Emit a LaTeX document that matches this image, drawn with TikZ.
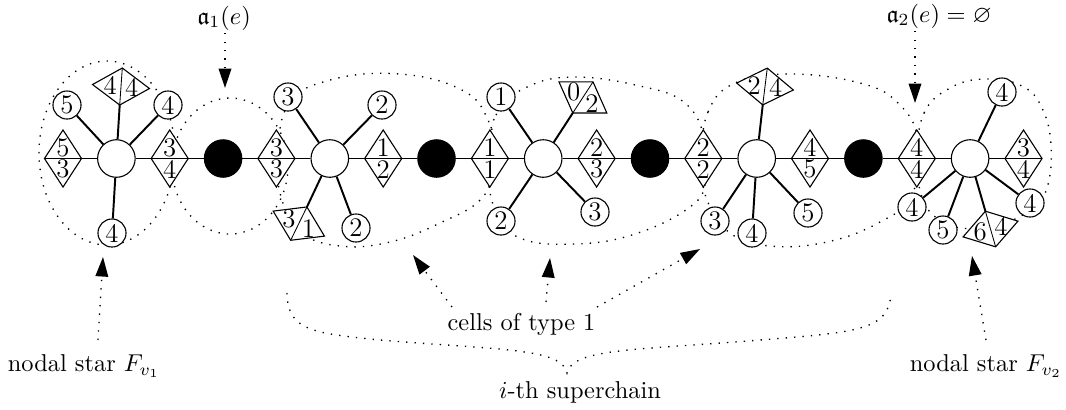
\documentclass[tikz,border=0pt]{standalone}
\usepackage{amssymb}
\usetikzlibrary{shapes.geometric,arrows.meta,calc}
\newcommand\digf{\fontsize{11}{13}\selectfont}
\tikzset{
  thk/.style={line width=0.8pt},
  dots/.style={line width=0.55pt, dash pattern=on 0.55pt off 2.9pt},
  arr/.style={dots, -{Triangle[length=8pt,width=5.2pt]}},
  leaf/.style={circle, draw, line width=0.45pt, fill=white, minimum size=11.5pt, inner sep=0pt, font=\digf},
  wnode/.style={circle, draw, line width=0.45pt, fill=white, minimum size=15.4pt, inner sep=0pt},
  bnode/.style={circle, draw, fill=black, minimum size=15.4pt, inner sep=0pt},
  rhom/.style={diamond, draw, line width=0.45pt, fill=white, minimum width=15.2pt, minimum height=23.4pt, inner sep=0pt, outer sep=0pt},
  dig/.style={inner sep=0pt, font=\digf},
  lab/.style={inner sep=1pt}
}
\newcommand\rhb[5]{%
  \node[rhom, rotate=#3] (#1) at #2 {};
  \draw[line width=0.35pt] (#1.west) -- (#1.east);
  \node[dig] at ($(#1.center)!0.38!(#1.north)$) {#4};
  \node[dig] at ($(#1.center)!0.38!(#1.south)$) {#5};
}
\begin{document}
\begin{tikzpicture}[x=0.41pt,y=-0.41pt]
\useasboundingbox (0,0) rectangle (1066,409);
% dotted cells
\draw[dots] (107,153) ellipse [x radius=68, y radius=92];
\draw[dots] (230,166) ellipse [x radius=58, y radius=68];
\draw[dots] plot[smooth cycle, tension=0.7] coordinates {(278,160) (288,105) (330,80) (400,74) (462,90) (488,120) (495,160) (482,198) (440,223) (390,242) (340,246) (300,232) (282,200)};
\draw[dots] plot[smooth cycle, tension=0.7] coordinates {(488,160) (496,115) (525,88) (573,77) (640,86) (685,103) (705,140) (706,180) (690,207) (635,234) (575,244) (520,238) (495,210)};
\draw[dots] plot[smooth cycle, tension=0.7] coordinates {(702,160) (708,112) (735,83) (790,74) (860,83) (898,103) (918,140) (912,195) (880,222) (827,242) (770,246) (730,233) (707,200)};
\draw[dots] plot[smooth cycle, tension=0.7] coordinates {(917,158) (924,113) (950,88) (985,79) (1022,86) (1042,108) (1051,145) (1047,188) (1030,210) (1000,224) (960,228) (932,214) (920,190)};

% main chain
\rhb{D0}{(63,158.5)}{0}{5}{3}
\node[wnode] (S1) at (116.4,158.5) {};
\rhb{D2}{(169.7,158.5)}{0}{3}{4}
\node[bnode] (B3) at (223.1,158.5) {};
\rhb{D4}{(276.4,158.5)}{0}{3}{3}
\node[wnode] (S2) at (329.8,158.5) {};
\rhb{D6}{(383.2,158.5)}{0}{1}{2}
\node[bnode] (B7) at (436.5,158.5) {};
\rhb{D8}{(489.9,158.5)}{0}{1}{1}
\node[wnode] (S3) at (543.2,158.5) {};
\rhb{D10}{(596.6,158.5)}{0}{2}{3}
\node[bnode] (B11) at (650,158.5) {};
\rhb{D12}{(703.3,158.5)}{0}{2}{2}
\node[wnode] (S4) at (756.7,158.5) {};
\rhb{D14}{(810,158.5)}{0}{4}{5}
\node[bnode] (B15) at (863.4,158.5) {};
\rhb{D16}{(916.8,158.5)}{0}{4}{4}
\node[wnode] (S5) at (970.1,158.5) {};
\rhb{D18}{(1023.5,158.5)}{0}{3}{4}

% leaves
\node[leaf] (L1a) at (67,105) {5};
\node[leaf] (L1b) at (168,105) {4};
\node[leaf] (L1c) at (112,233) {4};
\rhb{R1}{(121,86.5)}{86}{4}{4}
\node[leaf] (L2a) at (288,97) {3};
\node[leaf] (L2b) at (382,105) {2};
\node[leaf] (L2c) at (356,228) {2};
\rhb{R2}{(298.8,223.6)}{244}{1}{3}
\node[leaf] (L3a) at (501,97) {1};
\node[leaf] (L3b) at (501,221) {2};
\node[leaf] (L3c) at (595,212) {3};
\rhb{R3}{(582.9,97.4)}{57}{0}{2}
\rhb{R4}{(765,86.5)}{83}{2}{4}
\node[leaf] (L4a) at (715,221) {3};
\node[leaf] (L4b) at (752,233) {4};
\node[leaf] (L4c) at (808,213) {5};
\node[leaf] (L5a) at (1002,92) {4};
\node[leaf] (L5b) at (1030,203) {4};
\node[leaf] (L5c) at (912,207) {4};
\node[leaf] (L5d) at (943,230) {5};
\rhb{R5}{(990.5,229)}{286}{4}{6}

% thick edges
\foreach \a/\b in {D0.east/S1, S1/D2.west, D2.east/B3, B3/D4.west, D4.east/S2, S2/D6.west,
  D6.east/B7, B7/D8.west, D8.east/S3, S3/D10.west, D10.east/B11, B11/D12.west,
  D12.east/S4, S4/D14.west, D14.east/B15, B15/D16.west, D16.east/S5, S5/D18.west,
  S1/L1a, S1/L1b, S1/L1c, S1/R1.west,
  S2/L2a, S2/L2b, S2/L2c, S2/R2.west,
  S3/L3a, S3/L3b, S3/L3c, S3/R3.west,
  S4/R4.west, S4/L4a, S4/L4b, S4/L4c,
  S5/L5a, S5/L5b, S5/L5c, S5/L5d, S5/R5.west}
  \draw[thk] (\a) -- (\b);

% labels
\node[lab] (a1) at (224,18) {$\mathfrak{a}_1(e)$};
\coordinate (a1t) at (225,88);
\draw[arr] (a1.south -| a1t) -- (a1t);
\node[lab] (a2) at (939,16) {$\mathfrak{a}_2(e)=\varnothing$};
\coordinate (a2t) at (915,103);
\draw[arr] (a2.south -| a2t) -- (a2t);

\node[lab] (ns1) at (84,366) {nodal star $F_{v_1}$};
\coordinate (n1s) at (98,340);
\coordinate (n1t) at (103,257);
\draw[arr] (n1s) -- (n1t);
\node[lab] (ns2) at (986,366) {nodal star $F_{v_2}$};
\coordinate (n2s) at (986,340);
\coordinate (n2t) at (972,256);
\draw[arr] (n2s) -- (n2t);

\node[lab] (ct) at (521.5,324) {cells of type 1};
\coordinate (c1s) at (452,307);
\coordinate (c1t) at (413,255);
\coordinate (c2s) at (546,302);
\coordinate (c2t) at (550,258);
\coordinate (c3s) at (597,307);
\coordinate (c3t) at (700,249);
\draw[arr] (c1s) -- (c1t);
\draw[arr] (c2s) -- (c2t);
\draw[arr] (c3s) -- (c3t);

\node[lab] (sc) at (580,392) {$i$-th superchain};
\coordinate (bl) at (287,293);
\coordinate (btip) at (567,373);
\coordinate (br) at (891,293);
\draw[dots] (bl) .. controls (288,330) and (310,333) .. (380,340)
  .. controls (500,350) and (562,348) .. (btip)
  .. controls (572,348) and (640,350) .. (760,340)
  .. controls (860,332) and (889,330) .. (br);
\end{tikzpicture}
\end{document}
